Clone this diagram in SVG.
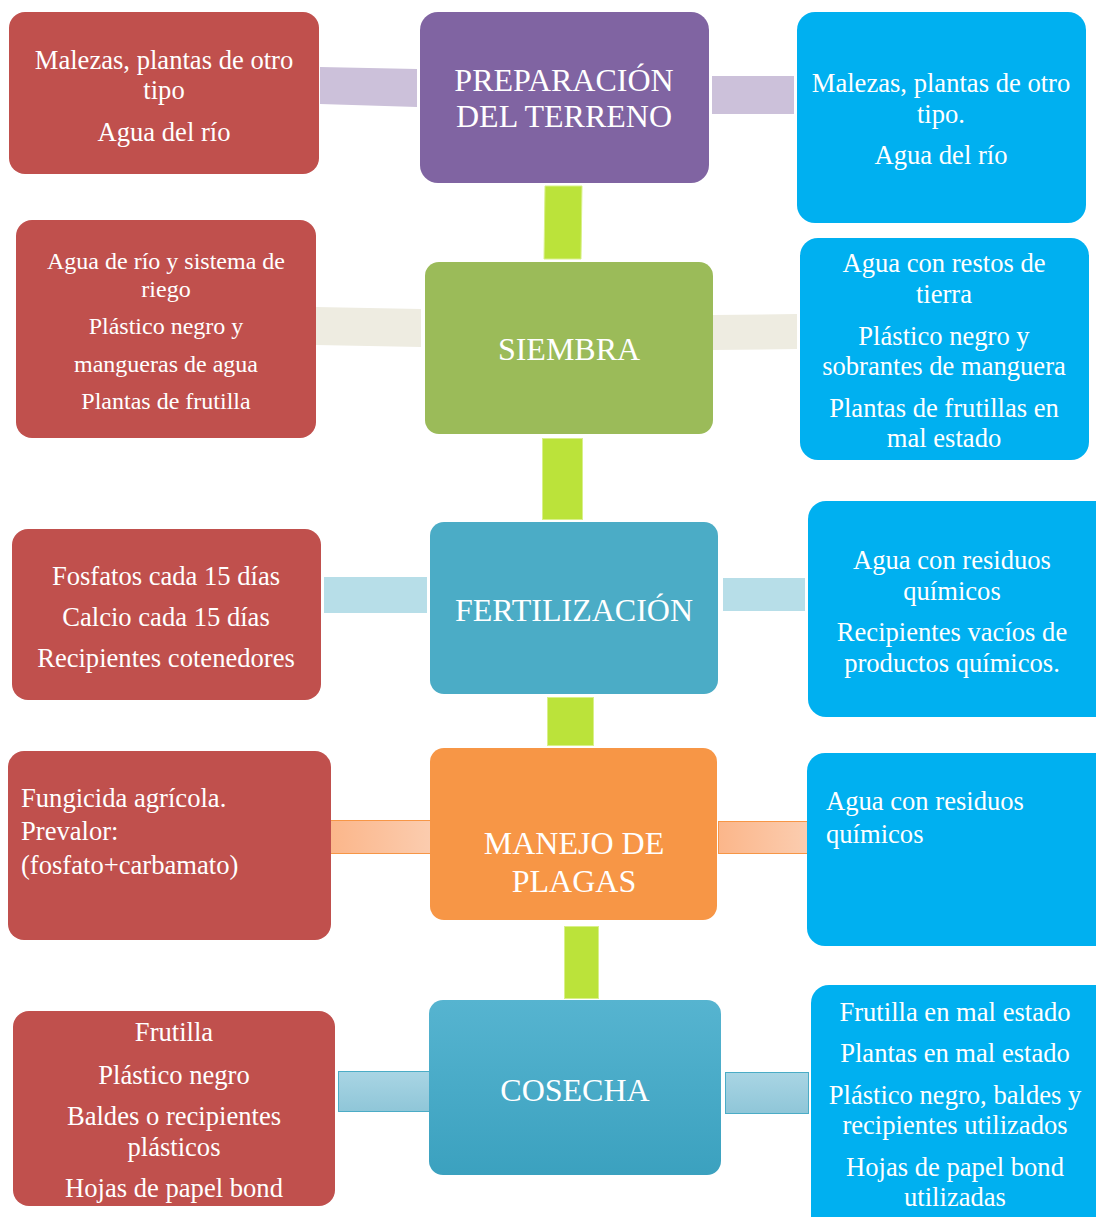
<svg xmlns="http://www.w3.org/2000/svg" width="1096" height="1217" viewBox="0 0 1096 1217">
<style>
text{font-family:"Liberation Serif","Times New Roman",serif;fill:#fff;}
.c{text-anchor:middle;}
.s24{font-size:26.6px;}
.s22{font-size:24px;}
.h{font-size:32px;}
.red{fill:#C0504D;}
.blu{fill:#00B0F0;}
.vl{fill:#BBE33A;stroke:#D9F08A;stroke-width:1;}
</style>
<defs>
<linearGradient id="peach" x1="0" y1="0" x2="1" y2="0">
<stop offset="0" stop-color="#FBB68A"/><stop offset="1" stop-color="#FBCDB0"/>
</linearGradient>
<linearGradient id="cos" x1="0" y1="0" x2="0" y2="1">
<stop offset="0" stop-color="#56B4D0"/><stop offset="1" stop-color="#3BA1BF"/>
</linearGradient>
<linearGradient id="cconn" x1="0" y1="0" x2="0" y2="1">
<stop offset="0" stop-color="#A9D5E4"/><stop offset="1" stop-color="#8FC6D8"/>
</linearGradient>
</defs>

<g id="connectors">
<polygon points="320,67 417,69 417,107 320,104" fill="#CCC1DA"/>
<rect x="712" y="76" width="82" height="38" fill="#CCC1DA"/>
<polygon points="316,307 421,309 421,347 316,345" fill="#EEECE1"/>
<polygon points="713,315 797,314 797,349 713,350" fill="#EEECE1"/>
<rect x="324" y="577" width="103" height="36" fill="#B7DEE8"/>
<rect x="723" y="578" width="82" height="33" fill="#B7DEE8"/>
<rect x="329.5" y="820.5" width="105" height="33" fill="url(#peach)" stroke="#F79646" stroke-width="1"/>
<rect x="718.5" y="821.5" width="90" height="32" fill="url(#peach)" stroke="#F79646" stroke-width="1"/>
<rect x="338.5" y="1071.5" width="91" height="40" fill="url(#cconn)" stroke="#4BACC6" stroke-width="1"/>
<rect x="725.5" y="1072.5" width="83" height="41" fill="url(#cconn)" stroke="#4BACC6" stroke-width="1"/>
<polygon class="vl" points="545,186 582,186 581,259 544,259"/>
<rect class="vl" x="542.5" y="438.5" width="40" height="81"/>
<rect class="vl" x="547.5" y="697.5" width="46" height="48"/>
<rect class="vl" x="564.5" y="926.5" width="34" height="72"/>
</g>

<g id="n-preparacion">
<rect x="420" y="12" width="289" height="171" rx="18" fill="#8064A2"/>
<text class="c h" x="564" y="91">PREPARACIÓN</text>
<text class="c h" x="564" y="127">DEL TERRENO</text>
</g>
<g id="n-siembra">
<rect x="425" y="262" width="288" height="172" rx="14" fill="#9BBB59"/>
<text class="c h" x="569" y="360">SIEMBRA</text>
</g>
<g id="n-fertilizacion">
<rect x="430" y="522" width="288" height="172" rx="14" fill="#4BACC6"/>
<text class="c h" x="574" y="621">FERTILIZACIÓN</text>
</g>
<g id="n-manejo">
<rect x="430" y="748" width="287" height="172" rx="14" fill="#F79646"/>
<text class="c h" x="574" y="854">MANEJO DE</text>
<text class="c h" x="574" y="892">PLAGAS</text>
</g>
<g id="n-cosecha">
<rect x="429" y="1000" width="292" height="175" rx="14" fill="url(#cos)"/>
<text class="c h" x="575" y="1101">COSECHA</text>
</g>

<g id="l1">
<rect class="red" x="9" y="12" width="310" height="162" rx="16"/>
<text class="c s24" x="164" y="69">Malezas, plantas de otro</text>
<text class="c s24" x="164" y="99">tipo</text>
<text class="c s24" x="164" y="141">Agua del río</text>
</g>
<g id="l2">
<rect class="red" x="16" y="220" width="300" height="218" rx="16"/>
<text class="c s22" x="166" y="269">Agua de río y sistema de</text>
<text class="c s22" x="166" y="297">riego</text>
<text class="c s22" x="166" y="334">Plástico negro y</text>
<text class="c s22" x="166" y="372">mangueras de agua</text>
<text class="c s22" x="166" y="409">Plantas de frutilla</text>
</g>
<g id="l3">
<rect class="red" x="12" y="529" width="309" height="171" rx="16"/>
<text class="c s24" x="166" y="585">Fosfatos cada 15 días</text>
<text class="c s24" x="166" y="626">Calcio cada 15 días</text>
<text class="c s24" x="166" y="667">Recipientes cotenedores</text>
</g>
<g id="l4">
<rect class="red" x="8" y="751" width="323" height="189" rx="16"/>
<text class="s24" x="21" y="807">Fungicida agrícola.</text>
<text class="s24" x="21" y="840">Prevalor:</text>
<text class="s24" x="21" y="874">(fosfato+carbamato)</text>
</g>
<g id="l5">
<rect class="red" x="13" y="1011" width="322" height="195" rx="16"/>
<text class="c s24" x="174" y="1041">Frutilla</text>
<text class="c s24" x="174" y="1084">Plástico negro</text>
<text class="c s24" x="174" y="1125">Baldes o recipientes</text>
<text class="c s24" x="174" y="1156">plásticos</text>
<text class="c s24" x="174" y="1197">Hojas de papel bond</text>
</g>

<g id="r1">
<rect class="blu" x="797" y="12" width="289" height="211" rx="18"/>
<text class="c s24" x="941" y="92">Malezas, plantas de otro</text>
<text class="c s24" x="941" y="123">tipo.</text>
<text class="c s24" x="941" y="164">Agua del río</text>
</g>
<g id="r2">
<rect class="blu" x="800" y="238" width="289" height="222" rx="18"/>
<text class="c s24" x="944" y="272">Agua con restos de</text>
<text class="c s24" x="944" y="303">tierra</text>
<text class="c s24" x="944" y="345">Plástico negro y</text>
<text class="c s24" x="944" y="375">sobrantes de manguera</text>
<text class="c s24" x="944" y="417">Plantas de frutillas en</text>
<text class="c s24" x="944" y="447">mal estado</text>
</g>
<g id="r3">
<rect class="blu" x="808" y="501" width="310" height="216" rx="18"/>
<text class="c s24" x="952" y="569">Agua con residuos</text>
<text class="c s24" x="952" y="600">químicos</text>
<text class="c s24" x="952" y="641">Recipientes vacíos de</text>
<text class="c s24" x="952" y="672">productos químicos.</text>
</g>
<g id="r4">
<rect class="blu" x="807" y="753" width="310" height="193" rx="18"/>
<text class="s24" x="826" y="810">Agua con residuos</text>
<text class="s24" x="826" y="843">químicos</text>
</g>
<g id="r5">
<rect class="blu" x="811" y="985" width="310" height="250" rx="18"/>
<text class="c s24" x="955" y="1021">Frutilla en mal estado</text>
<text class="c s24" x="955" y="1062">Plantas en mal estado</text>
<text class="c s24" x="955" y="1104">Plástico negro, baldes y</text>
<text class="c s24" x="955" y="1134">recipientes utilizados</text>
<text class="c s24" x="955" y="1176">Hojas de papel bond</text>
<text class="c s24" x="955" y="1206">utilizadas</text>
</g>
</svg>
